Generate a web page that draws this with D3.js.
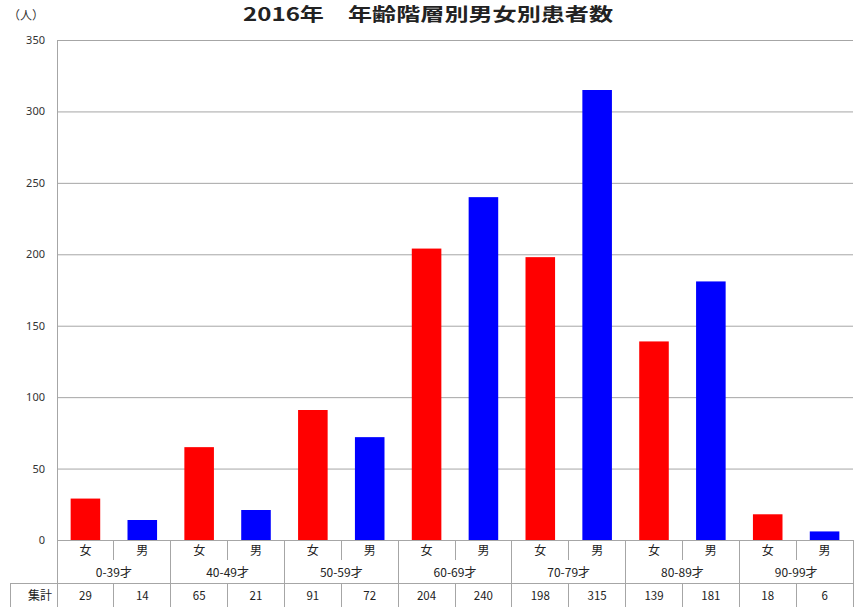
<!DOCTYPE html>
<html>
<head>
<meta charset="utf-8">
<script src="https://cdn.jsdelivr.net/npm/d3@7"></script>
<style>
  body { margin: 0; background: #fff; }
  text { font-family: "Noto Sans CJK JP", "Noto Sans", sans-serif; }
</style>
</head>
<body>
<svg id="chart" width="855" height="607"></svg>
<script>
// data
var ageGroups = ["0-39才", "40-49才", "50-59才", "60-69才", "70-79才", "80-89才", "90-99才"];
var sexes = ["女", "男"];
var female = [29, 65, 91, 204, 198, 139, 18];
var male = [14, 21, 72, 240, 315, 181, 6];
var yTicks = [0, 50, 100, 150, 200, 250, 300, 350];

var svg = d3.select("#chart");
var margin = {left: 57, right: 2, top: 40, bottom: 67};
var width = 855 - margin.left - margin.right;
var plotBottom = 540;

var colors = {"女": "#ff0000", "男": "#0000ff"};

var x0 = d3.scaleBand().domain(ageGroups).range([margin.left, margin.left + width]);
var x1 = d3.scaleBand().domain(sexes).range([0, x0.bandwidth()]);
var y = d3.scaleLinear().domain([0, 350]).range([plotBottom, margin.top]);

// title
svg.append("text")
  .attr("x", 243).attr("y", 21)
  .attr("textLength", 370).attr("lengthAdjust", "spacingAndGlyphs")
  .style("font-size", "18px").style("font-weight", "bold").attr("fill", "#222")
  .text("2016年　年齢階層別男女別患者数");

svg.append("text")
  .attr("x", 8).attr("y", 20)
  .style("font-size", "12px").attr("fill", "#333")
  .text("（人）");

// gridlines + y axis
var yAxis = d3.axisLeft(y).tickValues(yTicks).tickSize(-width).tickPadding(12);
var gy = svg.append("g")
  .attr("transform", "translate(" + margin.left + ",0)")
  .call(yAxis);
gy.select(".domain").remove();
gy.selectAll(".tick line").attr("stroke", "#a6a6a6");
gy.selectAll(".tick text")
  .attr("fill", "#333")
  .style("font-size", "11px")
  .style("font-family", "\"Noto Sans\", sans-serif");

// bars
var rows = [];
ageGroups.forEach(function(a, i) {
  rows.push({group: a, sex: "女", value: female[i]});
  rows.push({group: a, sex: "男", value: male[i]});
});

var bw = x1.bandwidth() * 0.52;
svg.selectAll(".bar")
  .data(rows)
  .enter()
  .append("rect")
  .attr("class", "bar")
  .attr("x", function(d) { return x0(d.group) + x1(d.sex) + (x1.bandwidth() - bw) / 2; })
  .attr("y", function(d) { return y(d.value); })
  .attr("width", bw)
  .attr("height", function(d) { return plotBottom - y(d.value); })
  .attr("fill", function(d) { return colors[d.sex]; });

// axis frame
var lineColor = "#a6a6a6";
var row1 = 560, row2 = 583, tableBottom = 607;
var tbl = svg.append("g").attr("stroke", lineColor).attr("stroke-width", 1).attr("shape-rendering", "crispEdges");

// left axis line
tbl.append("line").attr("x1", margin.left).attr("x2", margin.left)
  .attr("y1", margin.top).attr("y2", tableBottom);
// bottom axis line
tbl.append("line").attr("x1", margin.left).attr("x2", margin.left + width)
  .attr("y1", plotBottom).attr("y2", plotBottom);
// data table top
tbl.append("line").attr("x1", 10).attr("x2", margin.left + width)
  .attr("y1", row2).attr("y2", row2);
tbl.append("line").attr("x1", 10).attr("x2", 10)
  .attr("y1", row2).attr("y2", tableBottom);

// group separators
ageGroups.forEach(function(a, i) {
  var gx = x0(a) + x0.bandwidth();
  tbl.append("line").attr("x1", gx).attr("x2", gx).attr("y1", plotBottom).attr("y2", tableBottom);
  var mx = x0(a) + x1("男");
  tbl.append("line").attr("x1", mx).attr("x2", mx).attr("y1", plotBottom).attr("y2", row1);
  tbl.append("line").attr("x1", mx).attr("x2", mx).attr("y1", row2).attr("y2", tableBottom);
});

// labels
var lab = svg.append("g").attr("fill", "#222").style("font-size", "12px");
rows.forEach(function(d) {
  var cx = x0(d.group) + x1(d.sex) + x1.bandwidth() / 2;
  lab.append("text").attr("x", cx).attr("y", 555).attr("text-anchor", "middle").text(d.sex);
  lab.append("text").attr("x", cx).attr("y", 600).attr("text-anchor", "middle")
    .style("font-size", "11.5px").text(d.value);
});
ageGroups.forEach(function(a) {
  lab.append("text").attr("x", x0(a) + x0.bandwidth() / 2).attr("y", 577)
    .attr("text-anchor", "middle").style("font-size", "12px").text(a);
});
lab.append("text").attr("x", 40).attr("y", 600).attr("text-anchor", "middle")
  .style("font-size", "12px").text("集計");
</script>
</body>
</html>
